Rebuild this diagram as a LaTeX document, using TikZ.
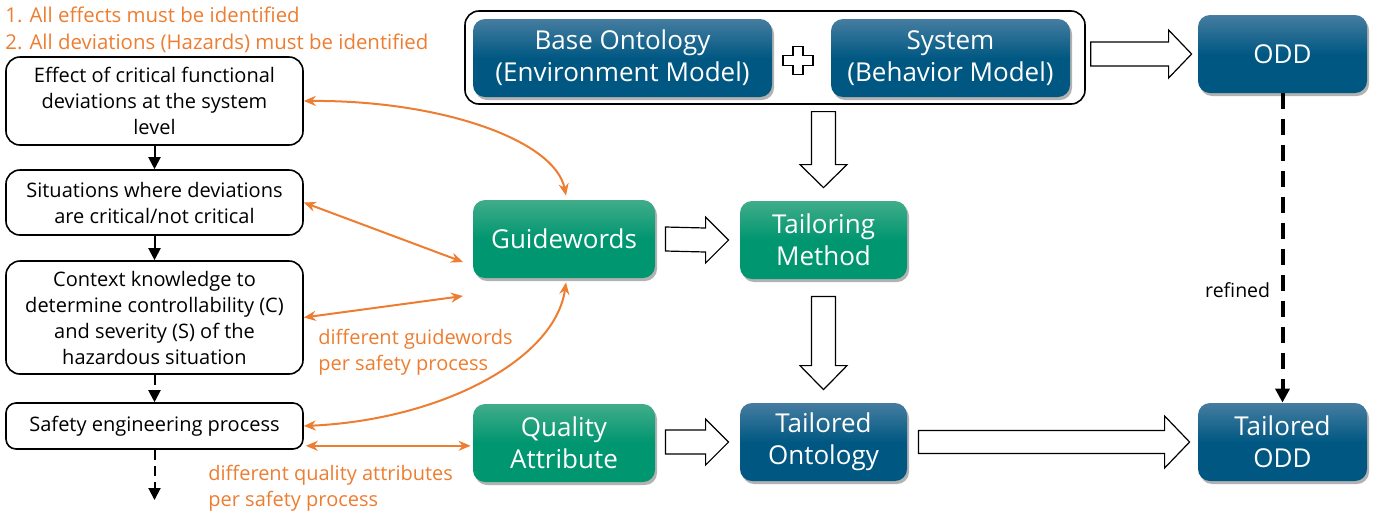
\documentclass[tikz,border=0pt]{standalone}
\usepackage{fontspec}
\setmainfont{Open Sans}
\usetikzlibrary{calc,shadows,arrows.meta}
\definecolor{orng}{RGB}{237,125,49}
\definecolor{bluetop}{RGB}{70,125,160}
\definecolor{bluebot}{RGB}{0,88,130}
\definecolor{greentop}{RGB}{65,172,138}
\definecolor{greenbot}{RGB}{0,150,112}
\tikzset{
  wbox/.style={draw, line width=0.8pt, rounded corners=7pt, align=center, inner sep=1pt,
    font=\fontsize{10}{13}\selectfont},
  cbox/.style={rounded corners=6pt, text=white, align=center, inner sep=1pt,
    font=\fontsize{13}{16}\selectfont,
    drop shadow={shadow xshift=1pt, shadow yshift=-1.5pt, opacity=0.3, fill=black}},
  bluebox/.style={cbox, top color=bluetop, bottom color=bluebot, middle color=bluebot},
  greenbox/.style={cbox, top color=greentop, bottom color=greenbot, middle color=greenbot},
  blockarrow/.style={draw, line width=0.6pt, fill=white},
  blk/.style={draw, line width=1pt, -{Triangle[length=6pt,width=6pt]}},
  blkdash/.style={blk, dash pattern=on 5pt off 3pt},
  oarr/.style={draw=orng, line width=1pt, {Stealth[length=6pt,width=5pt]}-{Stealth[length=6pt,width=5pt]}},
  olab/.style={text=orng, inner sep=0pt, align=left, font=\fontsize{10}{12.75}\selectfont},
}
\begin{document}
\begin{tikzpicture}[x=0.5pt,y=-0.5pt]
\useasboundingbox (0,0) rectangle (1377,516);

% header text
\node[olab, anchor=north west, font=\fontsize{10.2}{13.5}\selectfont] (hdr) at (5,6) {1. All effects must be identified\\2. All deviations (Hazards) must be identified};

% left process boxes
\node[wbox, minimum width=148.5pt, minimum height=44pt] (b1) at (154.5,101) {Effect of critical functional\\deviations at the system\\level};
\node[wbox, minimum width=148.5pt, minimum height=32.5pt] (b2) at (154.5,202.5) {Situations where deviations\\are critical/not critical};
\node[wbox, minimum width=148.5pt, minimum height=56.5pt] (b3) at (154.5,317.5) {Context knowledge to\\determine controllability (C)\\and severity (S) of the\\hazardous situation};
\node[wbox, minimum width=148.5pt, minimum height=23pt, rounded corners=5pt] (b4) at (154.5,426) {Safety engineering process};
\coordinate (bend) at (154.5,500);

\draw[blk] (b1) -- (b2);
\draw[blk] (b2) -- (b3);
\draw[blkdash] (b3) -- (b4);
\draw[blkdash] (b4) -- (bend);

% top group
\node[draw, line width=0.8pt, rounded corners=7pt, minimum width=310pt, minimum height=46.5pt] (outer) at (775,57.5) {};
\node[bluebox, minimum width=149.5pt, minimum height=39pt] (base) at (622.5,58) {Base Ontology\\(Environment Model)};
\node[bluebox, minimum width=119.5pt, minimum height=39pt] (sys) at (950.5,58) {System\\(Behavior Model)};
\draw[line width=0.7pt, fill=white, shift={(798,60.5)}]
  (-5,-14) -- (5,-14) -- (5,-5) -- (15,-5) -- (15,5) -- (5,5) -- (5,14) -- (-5,14) -- (-5,5) -- (-15,5) -- (-15,-5) -- (-5,-5) -- cycle;
\node[bluebox, minimum width=84.5pt, minimum height=39pt] (odd) at (1282.5,54) {ODD};

% middle/bottom boxes
\node[greenbox, minimum width=91pt, minimum height=39pt] (gw) at (564,239) {Guidewords};
\node[greenbox, minimum width=83.5pt, minimum height=39pt] (tm) at (823.5,240) {Tailoring\\Method};
\node[greenbox, minimum width=91pt, minimum height=39pt] (qa) at (564,443) {Quality\\Attribute};
\node[bluebox, minimum width=83.5pt, minimum height=39pt] (to) at (823.5,442) {Tailored\\Ontology};
\node[bluebox, minimum width=84.5pt, minimum height=39pt] (todd) at (1282.5,442) {Tailored\\ODD};

% block arrows
% outer -> odd
\draw[blockarrow] ($(outer.east|-odd.west)+(5,-12)$) -- ($(odd.west)+(-29,-12)$) -- ($(odd.west)+(-29,-24)$) -- ($(odd.west)+(-6,0)$) -- ($(odd.west)+(-29,24)$) -- ($(odd.west)+(-29,12)$) -- ($(outer.east|-odd.west)+(5,12)$) -- cycle;
% outer -> tm (down)
\draw[blockarrow] ($(tm.north)+(-12,-89)$) -- ($(tm.north)+(12,-89)$) -- ($(tm.north)+(12,-36)$) -- ($(tm.north)+(23.5,-36)$) -- ($(tm.north)+(0,-13)$) -- ($(tm.north)+(-23.5,-36)$) -- ($(tm.north)+(-12,-36)$) -- cycle;
% tm -> to (down)
\draw[blockarrow] ($(tm.south)+(-12,17)$) -- ($(tm.south)+(12,17)$) -- ($(to.north)+(12,-37)$) -- ($(to.north)+(23.5,-37)$) -- ($(to.north)+(0,-13)$) -- ($(to.north)+(-23.5,-37)$) -- ($(to.north)+(-12,-37)$) -- cycle;
% gw -> tm
\draw[blockarrow] ($(gw.east)+(10,-12)$) -- ($(tm.west)+(-34,-12)$) -- ($(tm.west)+(-34,-23)$) -- ($(tm.west)+(-11,0)$) -- ($(tm.west)+(-34,23)$) -- ($(tm.west)+(-34,12)$) -- ($(gw.east)+(10,12)$) -- cycle;
% qa -> to
\draw[blockarrow] ($(qa.east|-to.west)+(10,-12)$) -- ($(to.west)+(-34,-12)$) -- ($(to.west)+(-34,-23)$) -- ($(to.west)+(-11,0)$) -- ($(to.west)+(-34,23)$) -- ($(to.west)+(-34,12)$) -- ($(qa.east|-to.west)+(10,12)$) -- cycle;
% to -> todd
\draw[blockarrow] ($(to.east)+(11,-11.5)$) -- ($(todd.west)+(-33,-11.5)$) -- ($(todd.west)+(-33,-26)$) -- ($(todd.west)+(-8,0)$) -- ($(todd.west)+(-33,26)$) -- ($(todd.west)+(-33,11.5)$) -- ($(to.east)+(11,11.5)$) -- cycle;

% refined dashed
\draw[line width=2pt, dash pattern=on 8pt off 5pt, -{Triangle[length=7pt,width=7pt]}] (odd.south) -- (todd.north);
\node[anchor=east, inner sep=0pt, font=\fontsize{9.75}{11}\selectfont] (ref) at ($(odd.south)!0.635!(todd.north)+(-12,0)$) {refined};

% orange connectors
\coordinate (c2) at (463,262);
\coordinate (c3) at (463,296);
\draw[oarr] (b1.east) .. controls (440,100) and (555,140) .. ($(gw.north)+(2,-4)$);
\draw[oarr] (b2.east) -- (c2);
\draw[oarr] (b3.east) -- (c3);
\draw[oarr] (b4.east) .. controls (440,420) and (555,360) .. ($(gw.south)+(2,4)$);
\draw[oarr] ($(b4.south east)+(2,-4)$) -- ($(qa.west|-b4.south east)+(-2,-4)$);

\node[olab, anchor=north west] (lab1) at (318,329) {different guidewords\\per safety process};
\node[olab, anchor=north west] (lab2) at (208,465) {different quality attributes\\per safety process};
\end{tikzpicture}
\end{document}
